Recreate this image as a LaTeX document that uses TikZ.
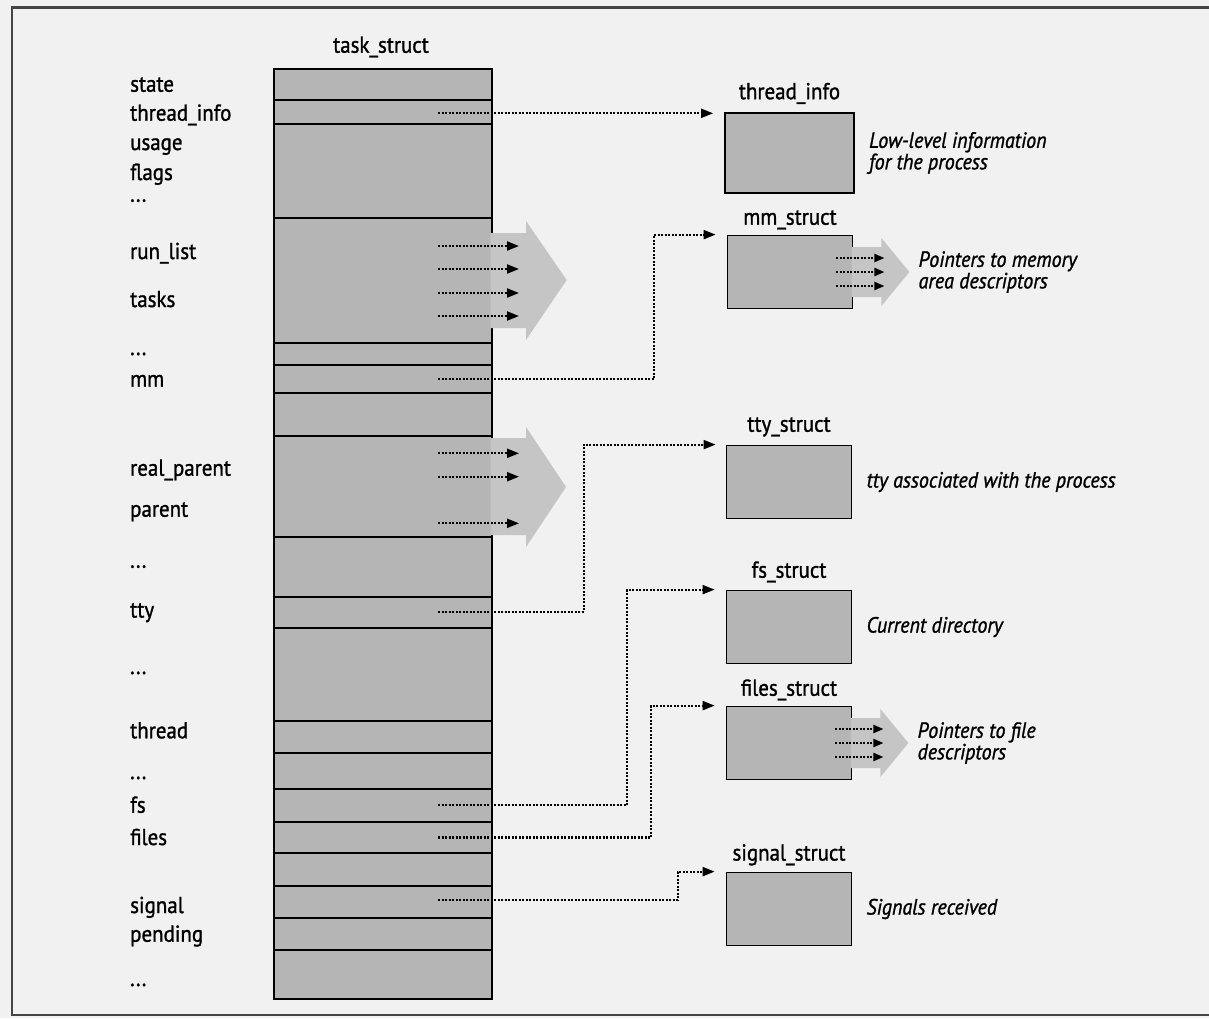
\documentclass[tikz,border=0pt]{standalone}
\usepackage{fontspec}
\setmainfont{PT Sans}[FakeStretch=0.91, FakeBold=1.2]
\usetikzlibrary{arrows.meta,positioning}

\definecolor{paper}{HTML}{F1F1F1}
\definecolor{field}{HTML}{B5B5B5}
\definecolor{blockgray}{HTML}{C5C5C5}
\definecolor{rim}{HTML}{444444}

\newcommand\etcfld{...}

\tikzset{
  fld/.style={anchor=base west, inner sep=0pt},
  sbox/.style={draw=black, line width=1.8pt, fill=field,
    minimum width=125pt, minimum height=73pt, inner sep=0pt},
  ttl/.style={inner sep=0pt},
  note/.style={font=\fontsize{22}{21.5}\selectfont\itshape, align=left, inner sep=0pt},
  ptr/.style={line width=2.1pt, dash pattern=on 2pt off 1.5pt,
    -{Triangle[length=12pt,width=9pt]}},
  ptrs/.style={ptr, -{Triangle[length=10pt,width=8pt]}},
}

\begin{document}
\begin{tikzpicture}[x=1pt, y=-1pt, font=\fontsize{23}{26}\selectfont]
  \useasboundingbox[fill=paper] (0,0) rectangle (1209,1018);
  % рамка
  \draw[rim, line width=2.2pt] (1209,7.5) -- (12,7.5) -- (12,1015) -- (1209,1015);

  % task_struct и его поля
  \draw[line width=1.8pt, fill=field] (274,69.3) rectangle (492,999);
  \node[ttl, anchor=base] (ts) at (381,52.7) {task\_struct};
  \fill[blockgray] (490.5,233) -- (526,233) -- (526,221) -- (566.7,280)
    -- (526,340) -- (526,328) -- (490.5,328) -- cycle;
  \fill[blockgray] (490.5,438) -- (526,438) -- (526,427) -- (566,487)
    -- (526,547) -- (526,535) -- (490.5,535) -- cycle;
  \foreach \y in {100,124.3,218.3,343,365,392.7,436,536.7,596.7,627.7,
      721,753.3,789,821.7,853.3,885.7,917.7,950}
    \draw[line width=1.8pt] (274,\y) -- (492,\y);
  \foreach \t/\y [count=\i] in {state/91.7, thread\_info/120.7, usage/150,
      flags/180, \etcfld/201.7, run\_list/259, tasks/307, \etcfld/355,
      mm/386.7, real\_parent/475.7, parent/516.7, \etcfld/567.7,
      tty/617.5, \etcfld/674, thread/738.3, \etcfld/779, fs/812.7,
      files/845, signal/913, pending/941.7, \etcfld/986}
    \node[fld] (f\i) at (130,\y) {\t};

  % списки (run_list, tasks, real_parent, parent, ...)
  \foreach \y in {246,269,293,316,453.3,476.7,523.3}
    \draw[ptr] (438,\y) -- (519,\y);

  % структуры справа
  \node[sbox, minimum width=129pt, minimum height=80pt] (ti) at (789.5,153) {};
  \node[sbox] (mm)  at (790,272) {};
  \node[sbox] (tty) at (789,482) {};
  \node[sbox] (fs)  at (789,627) {};
  \node[sbox] (fl)  at (789,743) {};
  \node[sbox] (sig) at (789,909) {};

  \node[ttl, above=8pt of ti]  (ti-t)  {thread\_info};
  \node[ttl, above=5pt of mm]  (mm-t)  {mm\_struct};
  \node[ttl, above=8pt of tty] (tty-t) {tty\_struct};
  \node[ttl, above=7pt of fs]  (fs-t)  {fs\_struct};
  \node[ttl, above=5pt of fl]  (fl-t)  {files\_struct};
  \node[ttl, above=6pt of sig] (sig-t) {signal\_struct};

  % стрелки-блоки у mm_struct и files_struct
  \foreach \b in {mm,fl}{
    \fill[blockgray, shift={(\b.east)}] (-1.5,-25) -- (28,-25) -- (28,-34)
      -- (56,0) -- (28,34) -- (28,25) -- (-1.5,25) -- cycle;
    \foreach \d in {-14,0,14}
      \draw[ptrs] ([xshift=-17pt,yshift=\d pt]\b.east) -- ([xshift=31pt,yshift=\d pt]\b.east);
  }

  \node[note, right=14pt of ti]  (ti-n)  {Low-level information\\for the process};
  \node[note, right=65pt of mm]  (mm-n)  {Pointers to memory\\area descriptors};
  \node[note, right=14pt of tty] (tty-n) {tty associated with the process};
  \node[note, right=14pt of fs]  (fs-n)  {Current directory};
  \node[note, right=65pt of fl]  (fl-n)  {Pointers to file\\descriptors};
  \node[note, right=14pt of sig] (sig-n) {Signals received};

  % указатели
  \coordinate (p-ti)  at (438,113.3);
  \coordinate (p-mm)  at (438,379);
  \coordinate (p-tty) at (438,611.7);
  \coordinate (p-fs)  at (438,805);
  \coordinate (p-fl)  at (438,837.5);
  \coordinate (p-sig) at (438,900);
  \draw[ptr, shorten >=11pt] (p-ti) -- (p-ti -| ti.north west);
  \draw[ptr, shorten >=11pt] (p-mm) -- ++(216,0) |- (mm.north west);
  \draw[ptr, shorten >=10pt] (p-tty) -- ++(145.6,0) |- (tty.north west);
  \draw[ptr, shorten >=11pt] (p-fs) -- ++(189,0) |- (fs.north west);
  \draw[ptr, shorten >=11pt] (p-fl) -- ++(213,0) |- (fl.north west);
  \draw[ptr, shorten >=11pt] (p-sig) -- ++(239.6,0) |- (sig.north west);
\end{tikzpicture}
\end{document}
